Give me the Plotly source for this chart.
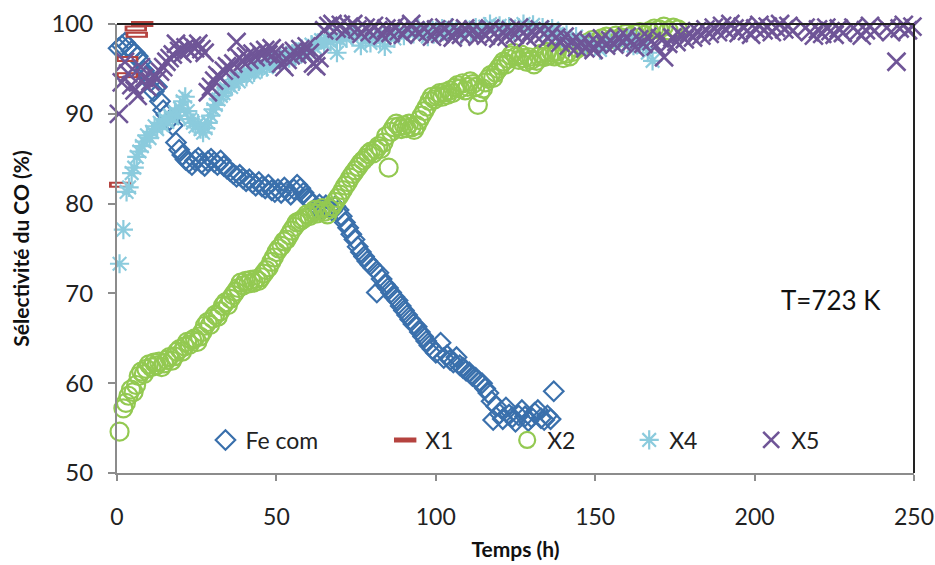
import plotly.graph_objects as go

# ---------------- data ----------------
fe_t = [0.5, 1.5, 2.5, 3.5, 4.5, 5.5, 6.5, 7.5, 8.5, 9.5, 10.5, 11.5, 12.5, 13.5, 14.5, 15.5, 16.5, 17.5, 18.5, 19.5,
        20.5, 21.5, 22.5, 23.5, 24.5, 25.5, 26.5, 27.5, 28.5, 29.5, 30.5, 31.5, 32.5, 33.5, 34.5,
        35.5, 36.5, 37.5, 38.5, 39.5, 40.5, 41.5, 42.5, 43.5, 44.5, 45.5, 46.5, 47.5, 48.5, 49.5,
        50.5, 51.5, 52.5, 53.5, 54.5, 55.5, 56.5, 57.5, 58.5, 59.5,
        60.5, 61.5, 62.5, 63.5, 64.5, 65.5, 66.5, 67.5, 68.5, 69.5, 70.5, 71.5,
        72.5, 73.5, 74.5, 75.5, 76.5, 77.5, 78.5, 79.5, 80.5, 81.5, 82.0, 83.0, 84.0, 85.0, 86.0, 87.0, 88.0,
        89.0, 90.0, 91.0, 92.0, 93.0, 94.0, 95.0, 96.0, 97.0, 98.0, 99.0, 100.0, 101.5, 102.5, 103.5, 104.5,
        105.5, 106.5, 107.5, 108.5, 109.5, 110.5, 111.5, 112.5, 113.5, 114.5, 115.5, 116.5, 117.5, 118.0,
        119.0, 120.0, 121.0, 122.0, 123.0, 124.0, 125.0, 126.0, 127.0, 128.0, 129.0, 130.0, 131.0, 132.0,
        133.0, 134.0, 135.0, 136.0, 137.0]
fe_v = [97.3, 97.6, 97.9, 97.5, 97.0, 96.8, 96.4, 95.8, 94.8, 94.2, 93.6, 92.5, 93.0, 91.4, 90.4, 89.9, 89.3, 88.7, 86.8, 86.0,
        85.4, 84.9, 84.6, 84.3, 84.8, 85.1, 84.5, 84.2, 84.7, 85.0, 84.6, 84.3, 84.8, 84.2, 83.9,
        83.6, 83.3, 83.0, 83.2, 82.8, 82.5, 82.7, 82.3, 82.0, 82.4, 81.9, 81.7, 82.1, 81.5, 81.3,
        81.6, 81.2, 81.8, 81.4, 81.0, 81.6, 82.1, 81.7, 81.2, 80.6,
        80.3, 80.0, 79.6, 79.9, 79.4, 79.8, 79.5, 79.2, 79.7, 79.3, 78.6, 77.9,
        77.3, 76.6, 76.0, 75.2, 74.6, 74.1, 73.6, 73.2, 72.8, 70.1, 72.3, 71.6, 71.0, 70.6, 70.1, 69.6, 69.2,
        68.6, 68.1, 67.6, 67.1, 66.6, 66.3, 65.7, 65.2, 64.7, 64.2, 63.8, 63.4, 64.5, 62.8, 63.1, 62.6,
        62.3, 62.9, 62.0, 61.7, 61.4, 61.2, 60.8, 60.6, 60.2, 60.0, 59.4, 58.9, 58.0, 55.9,
        57.4, 56.6, 56.0, 57.3, 56.5, 56.2, 55.7, 56.4, 57.0, 56.3, 55.8, 56.2, 56.7, 57.0,
        56.1, 55.9, 56.4, 56.0, 59.1]

x1_t = [1.0, 3.2, 3.2, 5.9, 6.2, 7.9]
x1_v = [82.1, 94.3, 96.1, 99.5, 98.8, 100.0]

x2_t = [0.8, 2.0, 2.8, 3.6, 4.4, 5.2, 6.0, 6.8, 7.6, 8.4, 9.2, 10.0, 10.8, 11.6, 12.4, 13.2, 14.0, 14.8, 15.6, 16.4,
        17.2, 18.0, 18.8, 19.6, 20.4, 21.2, 22.0, 22.8, 23.6, 24.4, 25.2, 26.0, 26.8, 27.6, 28.4, 29.2, 30.0, 30.8,
        31.6, 32.4, 33.2, 34.0, 34.8, 35.6, 36.4, 37.2, 38.0, 38.8, 39.6, 40.4, 41.2, 42.0, 42.8, 43.6, 44.4, 45.2,
        46.0, 46.8, 47.6, 48.4, 49.2, 50.0, 50.8, 51.6, 52.4, 53.2, 54.0, 54.8, 55.6, 56.4, 57.2, 58.0, 58.8, 59.6,
        60.4, 61.2, 62.0, 62.8, 63.6, 64.4, 65.2, 66.0, 66.8, 67.6, 68.4, 69.2, 70.0, 70.8, 71.6, 72.4, 73.2, 74.0,
        74.8, 75.6, 76.4, 77.2, 78.0, 78.8, 79.6, 80.4, 81.2, 82.0, 82.8, 83.6, 84.4, 85.2, 86.0, 86.8, 87.6, 88.4,
        89.2, 90.0, 90.8, 91.6, 92.4, 93.2, 94.0, 94.8, 95.6, 96.4, 97.2, 98.0, 98.8, 99.6, 100.4, 101.2, 102.0,
        102.8, 103.6, 104.4, 105.2, 106.0, 106.8, 107.6, 108.4, 109.2, 110.0, 110.8, 111.6, 112.4, 113.2, 114.0,
        114.8, 115.6, 116.4, 117.2, 118.0, 118.8, 119.6, 120.4, 121.2, 122.0, 122.8, 123.6, 124.4, 125.2, 126.0,
        126.8, 127.6, 128.4, 129.2, 130.0, 130.8, 131.6, 132.4, 133.2, 134.0, 134.8, 135.6, 136.4, 137.2, 138.0,
        139.0, 140.0, 141.0, 142.0, 143.0, 144.5, 146.0, 147.5, 149.0, 150.5, 152.0, 153.5, 155.0, 156.5, 158.0,
        159.5, 161.0, 162.5, 164.0, 165.5, 167.0, 168.5, 170.0, 171.5, 173.0, 174.5, 176.0]
x2_v = [54.6, 57.2, 57.8, 58.6, 59.3, 59.0, 59.8, 60.8, 61.3, 61.0, 61.6, 62.1, 61.8, 62.3, 62.0, 62.4, 61.8, 62.2, 62.6, 62.9,
        62.5, 63.0, 63.5, 63.8, 63.5, 64.1, 64.6, 64.3, 64.8, 65.0, 64.6, 65.2, 65.7, 66.4, 66.8, 66.5, 67.2, 67.6,
        67.4, 68.0, 68.6, 69.0, 68.7, 69.4, 69.8, 70.2, 70.6, 71.2, 70.9, 71.4, 71.1, 71.5, 71.2, 71.6, 71.4, 71.8,
        72.2, 72.6, 72.9, 73.5, 74.0, 74.6, 75.0, 75.3, 75.8, 76.0, 76.5, 77.0, 77.4, 77.9, 78.0, 78.2, 78.4, 78.8,
        78.6, 79.0, 79.3, 78.9, 79.2, 79.5, 79.1, 78.8, 79.4, 79.7, 80.2, 80.6, 81.0, 81.5, 82.0, 82.4, 82.9, 83.3,
        83.7, 84.1, 84.5, 84.8, 85.1, 85.5, 85.8, 85.6, 86.0, 86.4, 86.1, 86.8, 87.5, 84.0, 88.0, 88.5, 88.9, 88.6,
        88.3, 88.7, 88.4, 88.9, 88.5, 88.2, 88.7, 89.3, 89.8, 90.3, 90.8, 91.4, 91.9, 91.6, 92.0, 92.3, 91.9,
        92.4, 92.1, 92.6, 92.3, 92.9, 93.2, 92.8, 93.4, 92.6, 93.0, 93.6, 93.3, 93.0, 91.0, 92.4,
        92.8, 93.5, 93.9, 94.3, 94.0, 94.6, 95.0, 95.4, 95.8, 95.5, 96.1, 96.5, 96.8, 96.4, 96.0,
        96.6, 96.2, 95.8, 96.3, 96.0, 95.5, 95.9, 96.4, 96.7, 96.3, 96.9, 96.5, 96.8, 96.4, 96.9,
        96.6, 96.2, 96.7, 96.4, 96.9, 97.3, 97.6, 97.9, 98.2, 98.0, 98.4, 98.6, 98.3, 98.7, 98.5,
        98.9, 98.6, 98.9, 99.1, 98.8, 99.2, 99.5, 99.4, 99.7, 99.3, 99.6, 99.4]

x4_t = [0.8, 2.0, 3.0, 3.8, 4.6, 5.4, 6.2, 7.0, 7.8, 8.6, 9.4, 10.2, 11.0, 11.8, 12.6, 13.4, 14.2, 15.0, 15.8, 16.6,
        17.4, 18.2, 19.0, 19.8, 20.6, 21.4, 22.2, 23.0, 23.8, 24.6, 25.4, 26.2, 27.0, 27.8, 28.6, 29.4, 30.2, 31.0,
        31.8, 32.6, 33.4, 34.2, 35.0, 35.8, 36.6, 37.4, 38.2, 39.0, 39.8, 40.6, 41.4, 42.2, 43.0, 43.8, 44.6, 45.4,
        46.2, 47.0, 47.8, 48.6, 49.4, 50.2, 51.0, 52.0, 53.0, 54.0, 55.0, 56.0, 57.0, 58.0, 59.0, 60.0, 61.0, 62.0,
        63.0, 64.0, 65.0, 66.0, 67.0, 68.0, 69.0, 70.0, 71.0, 72.0,
        73.5, 75.0, 76.5, 78.0, 79.5, 81.0, 82.5, 84.0, 85.5, 87.0, 88.5, 90.0, 91.5, 93.0, 94.5, 96.0, 97.5, 99.0,
        100.5, 102.0, 103.5, 105.0, 106.5, 108.0, 109.5, 111.0, 112.5, 114.0, 115.5, 117.0, 118.5, 120.0, 121.5,
        123.0, 124.5, 126.0, 127.5, 129.0, 130.5, 132.0, 133.5, 135.0, 136.5, 138.0, 139.5, 141.0, 142.5, 144.0,
        145.5, 147.0, 148.5, 150.0, 151.5, 153.0, 154.5, 156.0, 157.5, 159.0, 160.5, 162.0, 163.5, 165.0, 166.5, 168.0]
x4_v = [73.3, 77.1, 81.3, 81.8, 83.4, 84.0, 85.2, 85.8, 86.4, 86.9, 87.6, 87.3, 88.0, 88.6, 88.3, 89.0, 88.7, 89.4, 89.1, 89.8,
        89.5, 90.2, 89.8, 90.6, 91.4, 91.9, 90.3, 89.4, 89.0, 88.6, 88.9, 88.3, 87.9, 88.4, 89.0, 89.8, 90.5, 91.0,
        91.6, 92.0, 92.3, 92.8, 93.2, 93.0, 93.5, 93.9, 93.6, 94.2, 94.5, 94.1, 94.6, 94.9, 94.6, 95.0, 95.3, 95.0,
        95.4, 95.2, 95.6, 95.9, 95.6, 96.0, 96.3, 96.0, 96.5, 96.2, 96.7, 96.4, 96.9, 97.2, 96.8, 97.3, 97.7, 97.4,
        97.9, 98.2, 97.8, 98.3, 98.0, 98.5, 96.8, 98.2, 98.7, 98.4,
        98.8, 99.2, 97.6, 98.4, 97.9, 98.6, 98.2, 97.5, 98.9, 98.4, 99.1, 98.7, 99.3, 98.9, 99.5, 99.1, 98.6, 99.3,
        98.9, 99.5, 99.0, 99.6, 99.2, 98.8, 99.4, 99.0, 99.6, 99.2, 99.7, 100.0, 100.3, 99.8, 99.3,
        99.7, 99.2, 99.6, 100.0, 99.5, 99.9, 100.2, 99.6, 99.1, 99.5, 98.9, 98.4, 98.8, 98.2, 98.6,
        98.1, 97.5, 98.0, 97.6, 97.1, 97.7, 98.2, 97.8, 98.3, 97.9, 98.4, 97.6, 98.1, 97.4, 96.8, 95.9]

x5_t = [0.6, 1.5, 2.5, 3.5, 4.5, 5.5, 6.5, 7.5, 8.5, 9.5, 10.5, 11.5, 12.5, 13.5, 14.5, 15.5, 16.5, 17.5, 18.5, 19.5,
        20.5, 21.5, 22.5, 23.5, 24.5, 25.5, 26.5, 27.5, 28.5, 29.5, 30.5, 31.5, 32.5, 33.5, 34.5, 35.5, 36.5, 37.5,
        38.5, 39.5, 40.5, 41.5, 42.5, 43.5, 44.5, 45.5, 46.5, 47.5, 48.5, 49.5, 50.5, 51.5, 52.5, 53.5, 54.5, 55.5,
        56.5, 57.5, 58.5, 59.5, 60.5, 61.5, 62.5, 63.5,
        65.0, 66.3, 67.6, 68.9, 70.2, 71.5, 72.8, 74.1, 75.4, 76.7, 78.0, 79.3, 80.6, 81.9, 83.2, 84.5, 85.8, 87.1,
        88.4, 89.7, 91.0, 92.3, 93.6, 94.9, 96.2, 97.5, 98.8, 100.1, 101.4, 102.7, 104.0, 105.3, 106.6, 107.9, 109.2,
        110.5, 111.8, 113.1, 114.4, 115.7, 117.0, 118.3, 119.6, 120.9, 122.2, 123.5, 124.8, 126.1, 127.4, 128.7,
        130.0, 131.3, 132.6, 133.9, 135.2, 136.5, 137.8, 139.1, 140.4, 141.7, 143.0, 144.3, 145.6, 146.9, 148.2,
        149.5, 150.8, 152.1, 153.4, 154.7, 156.0, 157.3, 158.6, 159.9, 161.2, 162.5, 163.8, 165.1, 166.4, 167.7,
        169.0, 170.3, 171.6, 172.9, 174.2, 175.5, 176.8, 178.1, 179.4, 180.7, 182.0, 183.3, 184.6, 185.9, 187.2,
        188.5, 189.8, 191.1, 192.4, 193.7, 195.0, 196.3, 197.6, 198.9, 200.2, 201.5, 202.8, 204.1, 205.4, 206.7,
        208.0, 209.3, 210.6, 211.9, 216.0, 217.3, 218.6, 219.9, 221.2, 222.5, 223.8, 225.1, 226.4, 227.7, 231.0,
        232.3, 233.6, 234.9, 236.2, 237.5, 241.5, 242.8, 244.5, 245.5, 246.8, 248.1, 249.5]
x5_v = [90.0, 93.5, 95.8, 94.5, 93.2, 92.6, 92.0, 95.2, 94.0, 93.0, 93.6, 94.3, 93.8, 94.7, 95.2, 95.8, 96.2, 96.6, 97.8, 97.0,
        96.7, 97.4, 97.1, 97.6, 97.3, 97.8, 97.2, 96.8, 92.4, 93.0, 93.7, 94.3, 94.0, 94.8, 95.3, 95.0, 95.6, 98.0,
        96.2, 95.8, 96.4, 96.0, 96.7, 96.3, 96.9, 96.5, 97.1, 96.6, 97.3, 96.8, 96.4, 95.6, 95.2, 96.0, 96.5, 97.0,
        96.6, 97.2, 96.8, 97.5, 96.8, 95.6, 95.3, 96.2,
        99.3, 99.8, 100.0, 99.5, 99.9, 99.2, 99.7, 100.0, 99.4, 98.9, 99.6, 99.1, 99.8, 99.3, 98.7, 99.5, 99.0, 99.7,
        99.2, 98.8, 99.5, 100.0, 99.3, 98.9, 99.6, 99.1, 98.6, 99.4, 98.9, 99.6, 99.0, 98.5, 99.3, 98.8, 99.5,
        98.9, 99.4, 98.6, 99.2, 98.7, 99.5, 98.9, 98.4, 99.1, 98.6, 99.3, 98.8, 99.6, 99.0, 98.5,
        99.2, 98.7, 99.4, 98.9, 98.4, 99.0, 98.5, 97.9, 98.6, 97.6, 98.2, 97.4, 98.0, 97.3, 97.9,
        97.1, 97.8, 98.4, 97.6, 98.2, 97.7, 98.5, 97.9, 98.6, 98.0, 97.4, 98.3, 97.8, 98.6, 98.1,
        97.5, 98.4, 96.3, 97.8, 98.5, 98.0, 98.8, 98.3, 99.0, 98.5, 99.2, 98.7, 99.4, 98.9, 99.6,
        99.1, 99.8, 99.3, 100.0, 99.5, 99.0, 99.7, 99.2, 98.8, 99.5, 99.9, 99.3, 99.7, 99.1, 99.6,
        100.0, 99.4, 99.8, 99.2, 99.6, 99.1, 98.7, 99.4, 98.9, 99.6, 99.2, 98.8, 99.5, 99.0, 99.6,
        99.1, 98.7, 99.3, 99.8, 99.2, 99.6, 99.1, 95.8, 99.5, 99.9, 99.3, 99.7]

x_ticks = [0, 50, 100, 150, 200, 250]
y_ticks = [50, 60, 70, 80, 90, 100]

C_FE = "#3A70AC"
C_X1 = "#B5433F"
C_X2 = "#93C951"
C_X4 = "#8BCBDD"
C_X5 = "#6F5597"

fig = go.Figure()
fig.add_trace(go.Scatter(x=fe_t, y=fe_v, mode="markers", name="Fe com", legend="legend",
                         marker=dict(symbol="diamond-open", size=15, color=C_FE, line=dict(width=2.2, color=C_FE)),
                         cliponaxis=False))
fig.add_trace(go.Scatter(x=x1_t, y=x1_v, mode="markers", name="X1", legend="legend2",
                         marker=dict(symbol="line-ew", size=16, color=C_X1, line=dict(width=6, color=C_X1)),
                         cliponaxis=False))
fig.add_trace(go.Scatter(x=x1_t, y=x1_v, mode="markers", name="X1", showlegend=False, hoverinfo="skip",
                         marker=dict(symbol="line-ew", size=12, color="white", line=dict(width=2, color="white")),
                         cliponaxis=False))
fig.add_trace(go.Scatter(x=x2_t, y=x2_v, mode="markers", name="X2", legend="legend2",
                         marker=dict(symbol="circle-open", size=18, color=C_X2, line=dict(width=2.2, color=C_X2)),
                         cliponaxis=False))
fig.add_trace(go.Scatter(x=x4_t, y=x4_v, mode="markers", name="X4", legend="legend2",
                         marker=dict(symbol="asterisk-open", size=16, color=C_X4, line=dict(width=2.2, color=C_X4)),
                         cliponaxis=False))
fig.add_trace(go.Scatter(x=x5_t, y=x5_v, mode="markers", name="X5", legend="legend2",
                         marker=dict(symbol="x-thin-open", size=18, color=C_X5, line=dict(width=2.6, color=C_X5)),
                         cliponaxis=False))

xtick_font = dict(family="Lato, sans-serif", size=23, color="#222222")
ytick_font = dict(family="Lato, sans-serif", size=24, color="#222222")
title_font = dict(family="Lato, sans-serif", size=21, color="#111111")
leg_font = dict(family="Lato, sans-serif", size=23, color="#222222")

fig.update_layout(
    width=935, height=565,
    margin=dict(l=117, r=21, t=24, b=92, autoexpand=False),
    paper_bgcolor="white", plot_bgcolor="white",
    font=dict(family="Lato, sans-serif"),
    xaxis=dict(range=[0, 250], tickvals=x_ticks, ticktext=[str(v) for v in x_ticks], automargin=False,
               showgrid=False, zeroline=False, showline=True, linecolor="#8C8C8C", linewidth=2,
               ticks="outside", ticklen=6, tickwidth=2, tickcolor="#8C8C8C",
               tickfont=xtick_font, ticklabelstandoff=16,
               title=dict(text="<b>Temps (h)</b>", font=title_font, standoff=14)),
    yaxis=dict(range=[50, 100], tickvals=y_ticks, ticktext=[str(v) for v in y_ticks], automargin=False,
               showgrid=False, zeroline=False, showline=True, linecolor="#8C8C8C", linewidth=2,
               ticks="outside", ticklen=7, tickwidth=2, tickcolor="#8C8C8C",
               tickfont=ytick_font, ticklabelstandoff=10,
               title=dict(text="<b>Sélectivité du CO (%)</b>", font=title_font, standoff=16)),
    legend=dict(orientation="h", x=0.111, y=0.0735, xanchor="left", yanchor="middle",
                font=leg_font, bgcolor="rgba(0,0,0,0)"),
    legend2=dict(orientation="h", x=0.3365, y=0.0735, xanchor="left", yanchor="middle",
                 entrywidthmode="pixels", entrywidth=77,
                 font=leg_font, bgcolor="rgba(0,0,0,0)"),
    annotations=[dict(x=224.0, y=69.3, xref="x", yref="y", text="T=723 K", showarrow=False,
                      font=dict(family="Lato, sans-serif", size=26, color="#111111"))],
    shapes=[
        dict(type="line", xref="x domain", yref="y domain", x0=0, x1=1, y0=1, y1=1,
             line=dict(color="#222222", width=2)),
        dict(type="line", xref="x domain", yref="y domain", x0=1, x1=1, y0=0, y1=1,
             line=dict(color="#222222", width=2)),
    ],
)

# remove the browser's default 8 px body margin so the 935x565 figure fills the window exactly
fig.write_html("out.html", config={"displayModeBar": False},
               post_script="document.body.style.margin='0';document.body.style.overflow='hidden';")
